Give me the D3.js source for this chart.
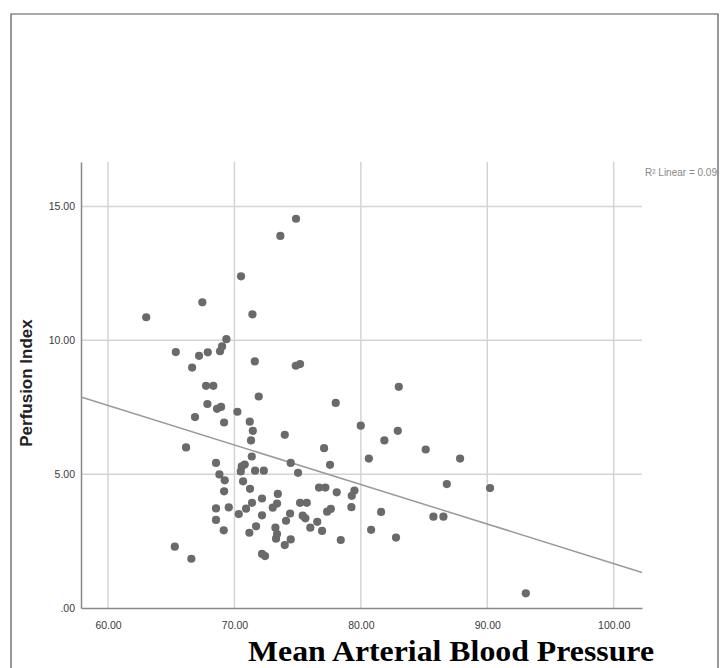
<!DOCTYPE html>
<html>
<head>
<meta charset="utf-8">
<script src="https://cdnjs.cloudflare.com/ajax/libs/d3/7.8.5/d3.min.js"></script>
<style>
    body { margin: 0; background: #fff; }
    .grid line { stroke: #d4d4d4; stroke-width: 1.5; }
    .tick text { font-family: Arial, "Liberation Sans", sans-serif; font-size: 10.5px; fill: #3a3a3a; }
</style>
</head>
<body>
<script>
// main js file

// mean arterial blood pressure (x) for each patient
var mapValues = [
    74.87, 73.63, 70.52,
    67.46, 63.02, 71.42, 69.36, 69.02, 68.86, 65.36, 67.20, 67.89, 66.65,
    71.61, 74.85, 75.19, 67.75, 68.33, 71.92, 67.86, 68.62, 68.94, 70.23,
    66.88, 69.18, 71.21, 71.45, 71.31, 73.98, 77.09, 66.17, 71.37, 68.54,
    74.45, 70.81, 70.58, 70.50, 71.63, 72.32, 75.03, 77.56, 68.81, 69.23,
    70.68, 71.23, 69.18, 76.69, 77.19, 73.43, 72.18, 71.39, 68.54, 69.55,
    70.92, 73.03, 73.37, 75.19, 75.72, 77.33, 70.34, 72.18, 74.40, 75.40,
    75.61, 68.54, 74.08, 76.55, 69.15, 71.71, 71.18, 73.24, 73.37, 73.29,
    76.00, 76.93, 74.45, 73.98, 65.28, 72.18, 72.42, 66.59,
    83.00, 78.01, 79.99, 82.92, 81.86, 85.13, 87.85, 80.63, 86.80, 90.22,
    78.09, 79.49, 79.28, 77.62, 79.25, 81.60, 85.74, 86.53, 80.81, 78.41,
    82.78, 93.05
];

// perfusion index (y), same order as mapValues
var piValues = [
    14.54, 13.90, 12.39,
    11.42, 10.86, 10.97, 10.04, 9.77, 9.59, 9.56, 9.42, 9.55, 8.98,
    9.21, 9.05, 9.11, 8.30, 8.30, 7.90, 7.62, 7.44, 7.51, 7.33,
    7.13, 6.93, 6.96, 6.62, 6.26, 6.47, 5.97, 6.00, 5.66, 5.42,
    5.42, 5.36, 5.29, 5.10, 5.13, 5.13, 5.05, 5.35, 4.99, 4.77,
    4.73, 4.45, 4.36, 4.50, 4.50, 4.26, 4.09, 3.93, 3.72, 3.76,
    3.71, 3.75, 3.90, 3.93, 3.93, 3.60, 3.51, 3.46, 3.53, 3.45,
    3.35, 3.29, 3.26, 3.22, 2.90, 3.05, 2.81, 3.00, 2.76, 2.59,
    3.00, 2.88, 2.56, 2.35, 2.29, 2.02, 1.94, 1.84,
    8.26, 7.66, 6.81, 6.62, 6.26, 5.92, 5.58, 5.58, 4.63, 4.48,
    4.32, 4.39, 4.19, 3.70, 3.77, 3.59, 3.41, 3.41, 2.92, 2.54,
    2.63, 0.55
];

// tick values of both axes
var xTicks = [60, 70, 80, 90, 100];
var yTicks = [0, 5, 10, 15];

// linear fit line as drawn: [intercept, slope]
var fitLine = [16.42, -0.1476];
var rSquared = "0.096";

setChart();

function setChart(){
    var width = 727,
        height = 668;

    // plot area inside the svg
    var left = 81, right = 642, top = 162, bottom = 608;

    var svg = d3.select("body")
        .append("svg")
        .attr("width", width)
        .attr("height", height);

    // outer frame (open at the bottom, runs off the picture)
    svg.append("path")
        .attr("d", "M11,669 L11,14 L718,14 L718,669")
        .attr("fill", "none")
        .attr("stroke", "#555")
        .attr("stroke-width", 1.2);

    var x = d3.scaleLinear()
        .domain([57.86, 102.24])
        .range([left, right]);

    var y = d3.scaleLinear()
        .domain([0, 16.66])
        .range([bottom, top]);

    // vertical grid lines
    svg.append("g")
        .attr("class", "grid")
        .selectAll("line")
        .data(xTicks)
        .enter()
        .append("line")
        .attr("x1", function(d){ return x(d); })
        .attr("x2", function(d){ return x(d); })
        .attr("y1", top)
        .attr("y2", bottom);

    // horizontal grid lines
    svg.append("g")
        .attr("class", "grid")
        .selectAll("line")
        .data(yTicks.slice(1))
        .enter()
        .append("line")
        .attr("x1", left)
        .attr("x2", right)
        .attr("y1", function(d){ return y(d); })
        .attr("y2", function(d){ return y(d); });

    // axes, spss style: only the baseline, no tick marks
    var xAxis = svg.append("g")
        .attr("transform", "translate(0," + bottom + ")")
        .call(d3.axisBottom(x)
            .tickValues(xTicks)
            .tickSize(0)
            .tickPadding(14)
            .tickFormat(d3.format(".2f")));

    var yAxis = svg.append("g")
        .attr("transform", "translate(" + left + ",0)")
        .call(d3.axisLeft(y)
            .tickValues(yTicks)
            .tickSize(0)
            .tickPadding(6)
            .tickFormat(function(d){ return d === 0 ? ".00" : d3.format(".2f")(d); }));

    xAxis.select(".domain").attr("stroke", "#888").attr("stroke-width", 1.5);
    yAxis.select(".domain").attr("stroke", "#888").attr("stroke-width", 1.5);

    // fit line across the whole x range
    var xs = x.domain();
    svg.append("line")
        .attr("x1", x(xs[0]))
        .attr("y1", y(fitLine[0] + fitLine[1] * xs[0]))
        .attr("x2", x(xs[1]))
        .attr("y2", y(fitLine[0] + fitLine[1] * xs[1]))
        .attr("stroke", "#9a9a9a")
        .attr("stroke-width", 1.5);

    // the points
    svg.append("g")
        .selectAll("circle")
        .data(mapValues)
        .enter()
        .append("circle")
        .attr("cx", function(d){ return x(d); })
        .attr("cy", function(d, i){ return y(piValues[i]); })
        .attr("r", 4.1)
        .attr("fill", "#6a6a6a");

    // r squared label, cut by the frame
    svg.append("clipPath")
        .attr("id", "frameclip")
        .append("rect")
        .attr("x", 0).attr("y", 0)
        .attr("width", 717.5).attr("height", height);

    svg.append("text")
        .attr("x", 645)
        .attr("y", 176)
        .attr("clip-path", "url(#frameclip)")
        .style("font-family", "Arial, 'Liberation Sans', sans-serif")
        .style("font-size", "10px")
        .style("fill", "#888")
        .text("R\u00b2 Linear = " + rSquared);

    // axis titles
    svg.append("text")
        .attr("transform", "translate(32,383) rotate(-90)")
        .attr("text-anchor", "middle")
        .style("font-family", "Arial, 'Liberation Sans', sans-serif")
        .style("font-size", "17px")
        .style("font-weight", "bold")
        .style("fill", "#222")
        .text("Perfusion Index");

    // sits on the bottom edge like the original, kept just inside it
    svg.append("text")
        .attr("x", 248)
        .attr("y", 661)
        .attr("textLength", 406)
        .attr("lengthAdjust", "spacingAndGlyphs")
        .style("font-family", "'Times New Roman', 'Liberation Serif', serif")
        .style("font-size", "30px")
        .style("font-weight", "bold")
        .style("fill", "#000")
        .text("Mean Arterial Blood Pressure");
};
</script>
</body>
</html>
